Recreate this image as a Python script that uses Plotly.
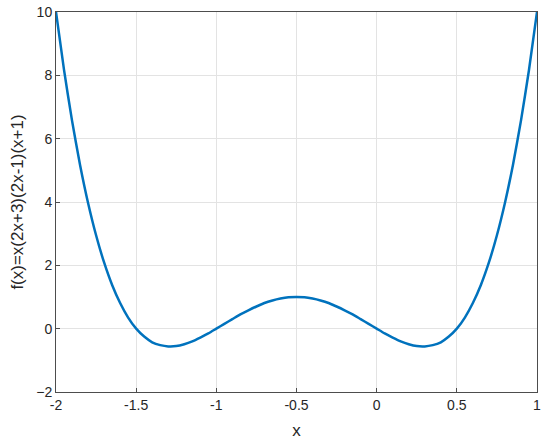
import plotly.graph_objects as go

# values
x_vals = [-2.0, -1.95, -1.9, -1.85, -1.8, -1.75, -1.7, -1.65, -1.6, -1.55, -1.5,
          -1.45, -1.4, -1.35, -1.3, -1.25, -1.2, -1.15, -1.1, -1.05, -1.0,
          -0.95, -0.9, -0.85, -0.8, -0.75, -0.7, -0.65, -0.6, -0.55, -0.5,
          -0.45, -0.4, -0.35, -0.3, -0.25, -0.2, -0.15, -0.1, -0.05, 0.0,
          0.05, 0.1, 0.15, 0.2, 0.25, 0.3, 0.35, 0.4, 0.45, 0.5,
          0.55, 0.6, 0.65, 0.7, 0.75, 0.8, 0.85, 0.9, 0.95, 1.0]
y_vals = [10.0, 8.17, 6.57, 5.17, 3.97, 2.95, 2.09, 1.38, 0.81, 0.35, 0.0,
          -0.25, -0.43, -0.52, -0.56, -0.55, -0.49, -0.40, -0.28, -0.15, 0.0,
          0.15, 0.30, 0.45, 0.58, 0.70, 0.81, 0.89, 0.95, 0.99, 1.0,
          0.99, 0.95, 0.89, 0.81, 0.70, 0.58, 0.45, 0.30, 0.15, 0.0,
          -0.15, -0.28, -0.40, -0.49, -0.55, -0.56, -0.52, -0.43, -0.25, 0.0,
          0.35, 0.81, 1.38, 2.09, 2.95, 3.97, 5.17, 6.57, 8.17, 10.0]

x_ticks = [-2, -1.5, -1, -0.5, 0, 0.5, 1]
x_labels = ["-2", "-1.5", "-1", "-0.5", "0", "0.5", "1"]
y_ticks = [-2, 0, 2, 4, 6, 8, 10]

AX = dict(showgrid=True, gridcolor="#e3e3e3", gridwidth=1,
          showline=True, linecolor="#4d4d4d", linewidth=1, mirror=True,
          ticks="inside", ticklen=4, tickcolor="#4d4d4d", automargin=False,
          ticklabeloverflow="allow",
          zeroline=False, tickfont=dict(size=14, color="#262626"))

fig = go.Figure(go.Scatter(x=x_vals, y=y_vals, mode="lines",
                           line=dict(color="#0072BD", width=2.5, shape="spline", smoothing=0.6)))
fig.update_layout(
    width=550, height=448,
    margin=dict(l=56, r=13, t=12, b=56),
    paper_bgcolor="white", plot_bgcolor="white",
    font=dict(family="Liberation Sans, Arial, sans-serif", color="#262626", size=14),
    showlegend=False,
    xaxis=dict(range=[-2, 1], tickvals=x_ticks, ticktext=x_labels,
               title=dict(text="x", standoff=12, font=dict(size=17)), **AX),
    yaxis=dict(range=[-2, 10], tickvals=y_ticks,
               title=dict(text="f(x)=x(2x+3)(2x-1)(x+1)", standoff=8, font=dict(size=17)), **AX),
)
# drop the default 8px page margin so the figure fills the window
fig.write_html("out.html", config={"displayModeBar": False},
               post_script="document.body.style.margin='0';")
